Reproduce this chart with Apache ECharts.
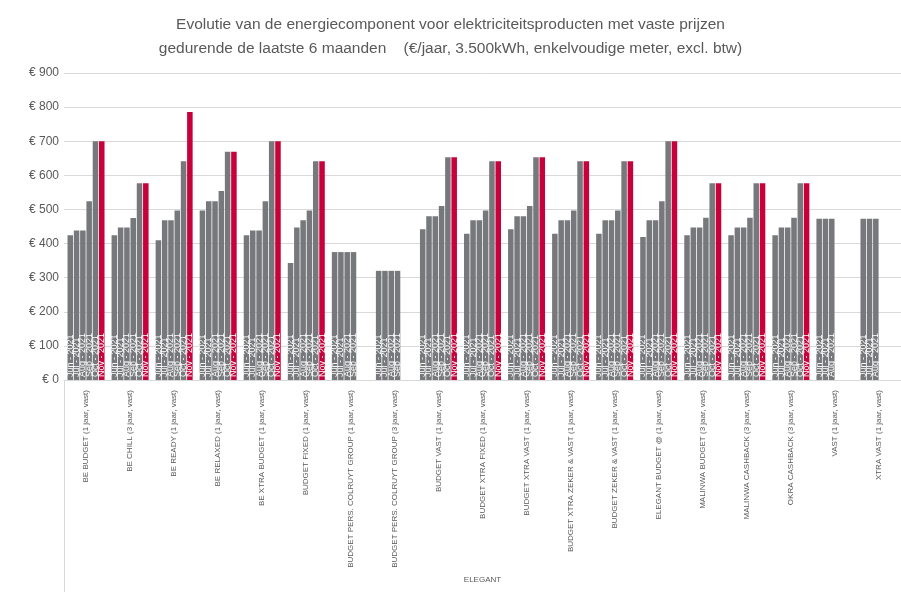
<!DOCTYPE html>
<html>
<head>
<meta charset="utf-8">
<script src="https://cdn.jsdelivr.net/npm/echarts@6/dist/echarts.min.js"></script>
<style>
  html, body, #main {
    margin: 0;
    padding: 0;
    width: 901px;
    height: 592px;
    overflow: hidden;
    background: #fff;
  }
</style>
</head>
<body>
<div id="main"></div>
<script>
// producten (categorieen)
var products = [
  "BE BUDGET (1 jaar, vast)",
  "BE CHILL (3 jaar, vast)",
  "BE READY (1 jaar, vast)",
  "BE RELAXED (1 jaar, vast)",
  "BE XTRA BUDGET (1 jaar, vast)",
  "BUDGET FIXED (1 jaar, vast)",
  "BUDGET PERS. COLRUYT GROUP (1 jaar, vast)",
  "BUDGET PERS. COLRUYT GROUP (3 jaar, vast)",
  "BUDGET VAST (1 jaar, vast)",
  "BUDGET XTRA FIXED (1 jaar, vast)",
  "BUDGET XTRA VAST (1 jaar, vast)",
  "BUDGET XTRA ZEKER & VAST (1 jaar, vast)",
  "BUDGET ZEKER & VAST (1 jaar, vast)",
  "ELEGANT BUDGET @ (1 jaar, vast)",
  "MALINWA BUDGET (3 jaar, vast)",
  "MALINWA CASHBACK (3 jaar, vast)",
  "OKRA CASHBACK (3 jaar, vast)",
  "VAST (1 jaar, vast)",
  "XTRA VAST (1 jaar, vast)"
];
var groupName = ["ELEGANT"];
var months = ["Jun - 2021", "Jul - 2021", "Aug - 2021", "Sep - 2021", "Oct - 2021", "Nov - 2021"];

// waarden per maand (€/jaar), null = geen prijs
var jun = [424, 424, 410, 497, 424, 343, 375, 320, 442, 429, 442, 429, 429, 419, 424, 424, 424, 473, 473];
var jul = [438, 447, 468, 524, 438, 447, 375, 320, 480, 468, 480, 468, 468, 468, 447, 447, 447, 473, 473];
var aug = [438, 447, 468, 524, 438, 468, 375, 320, 480, 468, 480, 468, 468, 468, 447, 447, 447, 473, 473];
var sep = [524, 475, 497, 554, 524, 497, 375, 320, 510, 497, 510, 497, 497, 524, 476, 476, 476, null, null];
var okt = [700, 577, 641, 669, 700, 641, null, null, 653, 641, 653, 641, 641, 700, 577, 577, 577, null, null];
var nov = [700, 577, 786, 669, 700, 641, null, null, 653, 641, 653, 641, 641, 700, 577, 577, 577, null, null];

var yTicks = [0, 100, 200, 300, 400, 500, 600, 700, 800, 900];

var GRAY = "#76787b";
var RED = "#c8003c";
var TEXT = "#595959";
var FONT = "'Liberation Sans', Arial, sans-serif";

var myChart = echarts.init(document.getElementById("main"));

function makeSeries(name, data, color) {
  return {
    name: name,
    type: "bar",
    data: data,
    barGap: "14%",
    barCategoryGap: "16%",
    itemStyle: { color: color },
    label: {
      show: true,
      position: "insideBottom",
      rotate: 90,
      align: "left",
      verticalAlign: "middle",
      distance: 3,
      color: "#fff",
      fontSize: 9,
      fontFamily: FONT,
      formatter: name
    }
  };
}

var allData = [jun, jul, aug, sep, okt, nov];
var _series = allData.map(function (d, i) {
  return makeSeries(months[i], d, i === 5 ? RED : GRAY);
});

var option = {
  animation: false,
  title: {
    text: "Evolutie van de energiecomponent voor elektriciteitsproducten met vaste prijzen\ngedurende de laatste 6 maanden    (€/jaar, 3.500kWh, enkelvoudige meter, excl. btw)",
    left: "center",
    top: 8,
    textStyle: {
      color: TEXT,
      fontWeight: "normal",
      fontSize: 15.5,
      fontFamily: FONT,
      lineHeight: 24
    }
  },
  grid: {
    left: 64,
    right: 0,
    top: 73,
    bottom: 212
  },
  xAxis: [
    {
      type: "category",
      data: products,
      axisLine: { lineStyle: { color: "#d9d9d9" } },
      axisTick: { show: false },
      axisLabel: {
        rotate: 90,
        interval: 0,
        margin: 10,
        color: TEXT,
        fontSize: 8,
        fontFamily: FONT
      }
    },
    {
      // tweede niveau van de as
      type: "category",
      data: groupName,
      position: "bottom",
      axisLine: { show: false },
      axisTick: { show: true, length: 212, lineStyle: { color: "#d9d9d9" } },
      axisLabel: {
        margin: 196,
        color: TEXT,
        fontSize: 8,
        fontFamily: FONT
      }
    }
  ],
  yAxis: {
    type: "value",
    min: 0,
    max: 900,
    interval: 100,
    axisLine: { show: false },
    axisTick: { show: false },
    splitLine: { lineStyle: { color: "#d9d9d9" } },
    axisLabel: {
      margin: 5,
      color: TEXT,
      fontSize: 12,
      fontFamily: FONT,
      formatter: function (v) {
        return yTicks.indexOf(v) >= 0 ? "€ " + v : "";
      }
    }
  },
  series: _series
};

myChart.setOption(option);
</script>
</body>
</html>
